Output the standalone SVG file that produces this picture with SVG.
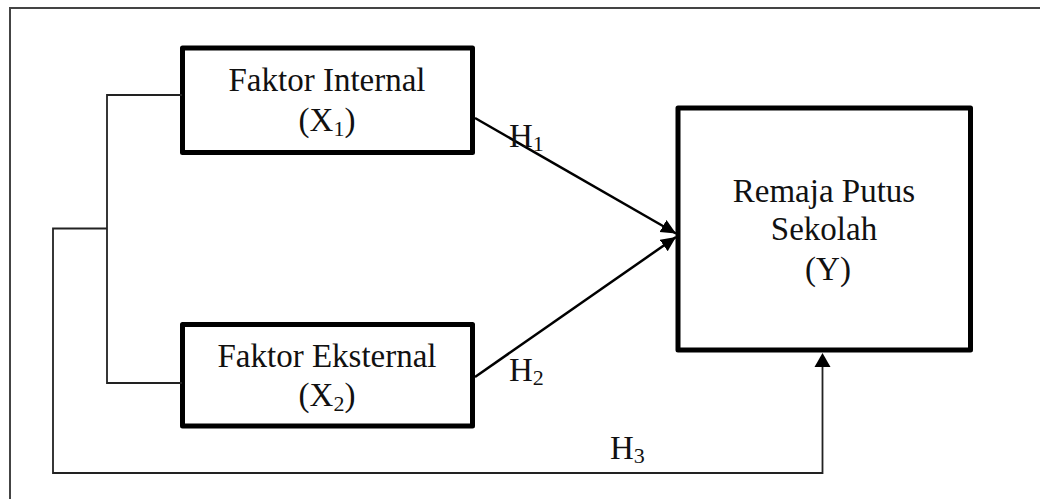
<svg xmlns="http://www.w3.org/2000/svg" width="1040" height="499" viewBox="0 0 1040 499">
  <defs>
    <style>
      .box { fill: #ffffff; stroke: #000000; stroke-width: 5; stroke-linejoin: round; }
      text { font-family: "Liberation Serif", "Times New Roman", serif; font-size: 33px; fill: #111111; }
      .lbl { text-anchor: middle; }
      .sub { font-size: 22px; }
      .wire { fill: none; stroke: #222222; stroke-width: 1.8; }
      .path { fill: none; stroke: #000000; stroke-width: 2.5; }
      .frame { fill: none; stroke: #444444; stroke-width: 2; }
    </style>
    <marker id="head" markerUnits="userSpaceOnUse" markerWidth="18" markerHeight="16" refX="15" refY="7" orient="auto">
      <path d="M0,0 L15,7 L0,14 Z" fill="#000000"/>
    </marker>
  </defs>

  <rect width="1040" height="499" fill="#ffffff"/>

  <!-- open frame: top and left edges only -->
  <path class="frame" d="M10,499 V8 H1040"/>

  <g id="node-x1">
    <rect class="box" x="182.5" y="48" width="290" height="104.5"/>
    <text class="lbl" x="327" y="91">Faktor Internal</text>
    <text class="lbl" x="327" y="131">(X<tspan class="sub" dy="5">1</tspan><tspan dy="-5">)</tspan></text>
  </g>

  <g id="node-x2">
    <rect class="box" x="182.5" y="324.5" width="290" height="101.5"/>
    <text class="lbl" x="327" y="367">Faktor Eksternal</text>
    <text class="lbl" x="327" y="406">(X<tspan class="sub" dy="5">2</tspan><tspan dy="-5">)</tspan></text>
  </g>

  <g id="node-y">
    <rect class="box" x="678" y="108" width="292.5" height="242"/>
    <text class="lbl" x="824" y="202">Remaja Putus</text>
    <text class="lbl" x="824" y="240">Sekolah</text>
    <text class="lbl" x="828" y="280">(Y)</text>
  </g>

  <g id="connectors">
    <!-- bracket joining both factors -->
    <path class="wire" d="M182,95 H107 V383 H182"/>
    <!-- combined path to Y -->
    <path class="wire" d="M107,228.5 H53 V473 H822.5 V366"/>
    <path d="M822.5,353 L830.5,367 L814.5,367 Z" fill="#000000"/>
    <!-- direct paths -->
    <line class="path" x1="475" y1="118" x2="676" y2="233.5" marker-end="url(#head)"/>
    <line class="path" x1="475" y1="377" x2="676" y2="237" marker-end="url(#head)"/>
  </g>

  <g id="labels">
    <text x="509" y="147">H<tspan class="sub" dy="4">1</tspan></text>
    <text x="509" y="381">H<tspan class="sub" dy="4">2</tspan></text>
    <text x="610" y="459">H<tspan class="sub" dy="4">3</tspan></text>
  </g>
</svg>
